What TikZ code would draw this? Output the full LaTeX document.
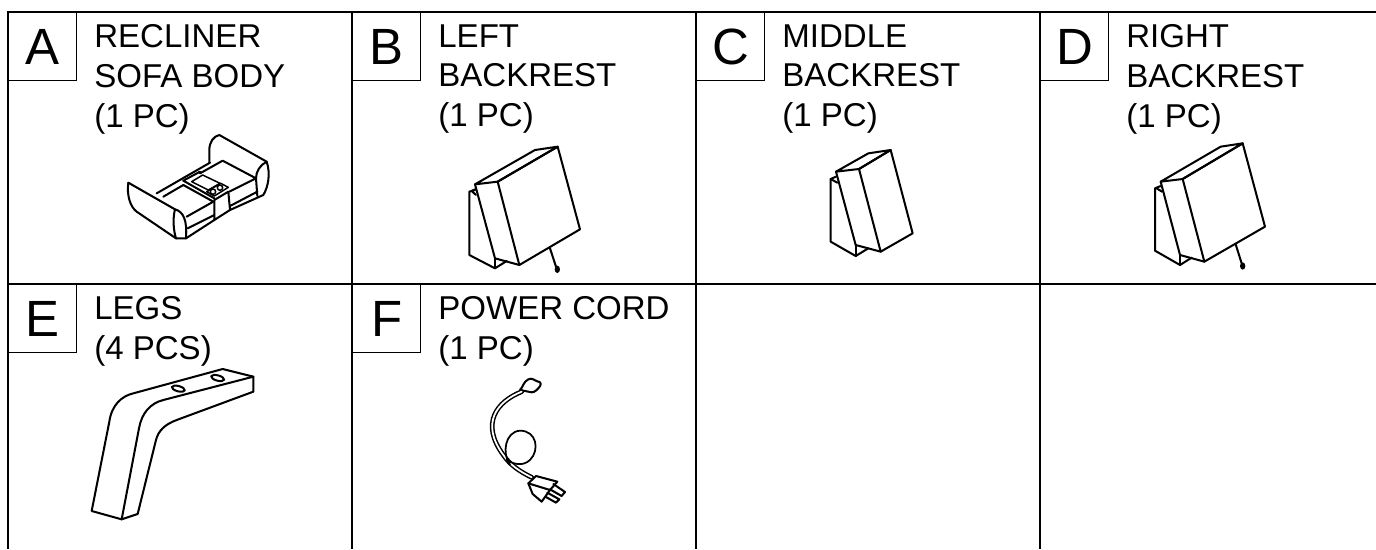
\documentclass[tikz,border=0pt]{standalone}
\usepackage{fontspec}
\setmainfont{Liberation Sans}
\tikzset{
  partbox/.style = {draw, line width = 0.7pt, anchor = north west, inner sep = 0pt, minimum size = 1.36cm, font = \fontsize{29}{30}\selectfont},
  parttext/.style = {anchor = north west, inner sep = 0pt, align = left, font = \fontsize{18.8}{22.7}\selectfont},
  grid/.style = {line width = 1pt},
  art/.style = {line width = 1.15pt, line join = round, line cap = round},
  fineart/.style = {line width = 0.85pt, line join = round, line cap = round},
  zoomed/.style = {x = 0.006667cm, y = -0.006667cm}
}
\begin{document}
\begin{tikzpicture}[x = 0.02cm, y = -0.02cm]
\useasboundingbox (0,0) rectangle (1376,549);
% table
\draw[grid] (8,549) -- (8,12) -- (1376,12);
\draw[grid] (8,284) -- (1376,284);
\draw[grid] (352,12) -- (352,549);
\draw[grid] (696,12) -- (696,549);
\draw[grid] (1040,12) -- (1040,549);
% letters and names
\node[partbox] (boxA) at (8,12) {A};
\node[partbox] (boxB) at (352,12) {B};
\node[partbox] (boxC) at (696,12) {C};
\node[partbox] (boxD) at (1040,12) {D};
\node[partbox] (boxE) at (8,284) {E};
\node[partbox] (boxF) at (352,284) {F};
\node[parttext] (textA) at (94,24) {RECLINER\\SOFA BODY\\(1 PC)};
\node[parttext] (textB) at (438,24) {LEFT\\BACKREST\\(1 PC)};
\node[parttext] (textC) at (782,24) {MIDDLE\\BACKREST\\(1 PC)};
\node[parttext] (textD) at (1126,24) {RIGHT\\BACKREST\\(1 PC)};
\node[parttext] (textE) at (94,296) {LEGS\\(4 PCS)};
\node[parttext] (textF) at (438,296) {POWER CORD\\(1 PC)};
% sofa
\begin{scope}[shift = {(120,130)}, zoomed, art]
\draw (268,98) -- (268,60) .. controls (268,35) and (282,18) .. (298,15) -- (440,95) .. controls (452,130) and (445,170) .. (430,195) -- (330,240);
\draw (440,95) .. controls (420,105) and (408,125) .. (408,145) -- (412,198);
\draw (25,158) -- (165,238) .. controls (158,265) and (160,300) .. (168,325);
\draw (25,158) .. controls (20,195) and (30,230) .. (50,245) -- (168,325);
\draw (165,238) .. controls (190,245) and (202,270) .. (198,325);
\draw (168,325) -- (198,325) -- (283,270);
\draw (200,260) -- (280,215);
\draw (203,295) -- (283,255);
\draw (283,270) -- (283,210) -- (325,185) -- (330,240) -- (283,270);
\draw (328,185) -- (408,145) -- (308,92) -- (240,130);
\draw (330,228) -- (412,185);
\draw (110,190) -- (270,98);
\draw (130,200) -- (190,165);
\draw (190,152) -- (240,125);
\draw (190,152) -- (283,205);
\draw (190,165) -- (280,215);
\draw[fineart] (215,155) -- (248,135) -- (300,160) -- (265,180) -- cycle;
\draw[fineart] (260,185) -- (302,160) -- (325,172) -- (283,198) -- cycle;
\draw[fineart] (279,185) circle (8);
\draw[fineart] (300,173) circle (8);
\end{scope}
% left backrest
\begin{scope}[shift = {(450,130)}, zoomed, art]
\draw (75,163) -- (255,60) -- (323,50) -- (143,155) -- cycle;
\draw (143,155) -- (323,50) -- (390,298) -- (208,405) -- cycle;
\draw (75,163) -- (135,385) -- (208,405);
\draw (78,195) -- (65,183) -- (75,178);
\draw (75,180) -- (58,185) -- (58,375) -- (135,415) -- (170,393);
\draw (135,385) -- (135,415);
\draw (300,355) -- (318,410);
\fill (322,418) ellipse (8 and 11);
\end{scope}
% middle backrest
\begin{scope}[shift = {(810,130)}, zoomed, art]
\draw (78,125) -- (175,70) -- (242,60) -- (147,117) -- cycle;
\draw (147,117) -- (242,60) -- (308,310) -- (212,365) -- cycle;
\draw (78,125) -- (137,345) -- (212,365);
\draw (78,140) -- (62,147) -- (62,335) -- (137,378) -- (175,355);
\draw (62,147) -- (82,158);
\draw (137,345) -- (137,378);
\end{scope}
% right backrest
\begin{scope}[shift = {(1130,130)}, zoomed, art]
\draw (92,155) -- (272,50) -- (338,40) -- (158,147) -- cycle;
\draw (158,147) -- (338,40) -- (405,290) -- (223,395) -- cycle;
\draw (92,155) -- (150,375) -- (223,395);
\draw (92,168) -- (75,175) -- (75,362) -- (150,405) -- (185,383);
\draw (80,175) -- (96,185);
\draw (150,375) -- (150,405);
\draw (317,343) -- (335,400);
\fill (338,408) ellipse (8 and 11);
\end{scope}
% leg
\begin{scope}[shift = {(70,360)}, zoomed, art]
\draw (65,453) -- (118,185) .. controls (125,135) and (155,108) .. (190,100) -- (458,27) -- (550,50) -- (550,95) -- (320,180) .. controls (285,193) and (265,212) .. (258,240) -- (203,462) -- (155,478) -- cycle;
\draw (155,478) -- (207,205) .. controls (215,160) and (240,130) .. (280,120) -- (550,50);
\draw (325,86) ellipse [x radius = 20, y radius = 8, rotate = -15];
\draw (443,54) ellipse [x radius = 20, y radius = 8, rotate = -15];
\end{scope}
% power cord
\begin{scope}[shift = {(460,340)}, zoomed, fineart]
\draw[art] (180,150) .. controls (190,140) and (190,125) .. (205,118) .. controls (215,112) and (225,122) .. (232,124) .. controls (245,125) and (245,135) .. (235,145) .. controls (225,155) and (220,160) .. (205,155) -- (195,153) -- cycle;
\draw[double, double distance = 1pt] (185,155) .. controls (110,185) and (60,250) .. (130,345) .. controls (150,375) and (180,395) .. (215,412);
\draw[line width = 1pt] (150,375) .. controls (125,340) and (135,275) .. (180,272) .. controls (230,272) and (240,330) .. (210,360) .. controls (190,378) and (165,375) .. (140,360);
\draw[art] (205,430) -- (228,408) -- (292,425) -- (270,450) -- cycle;
\draw[art] (205,430) -- (218,462) -- (245,485) -- (270,450);
\draw[art] (280,432) -- (315,456) -- (305,468) -- (270,448);
\draw[art] (262,458) -- (298,478) -- (288,488) -- (256,470);
\end{scope}
\end{tikzpicture}
\end{document}
